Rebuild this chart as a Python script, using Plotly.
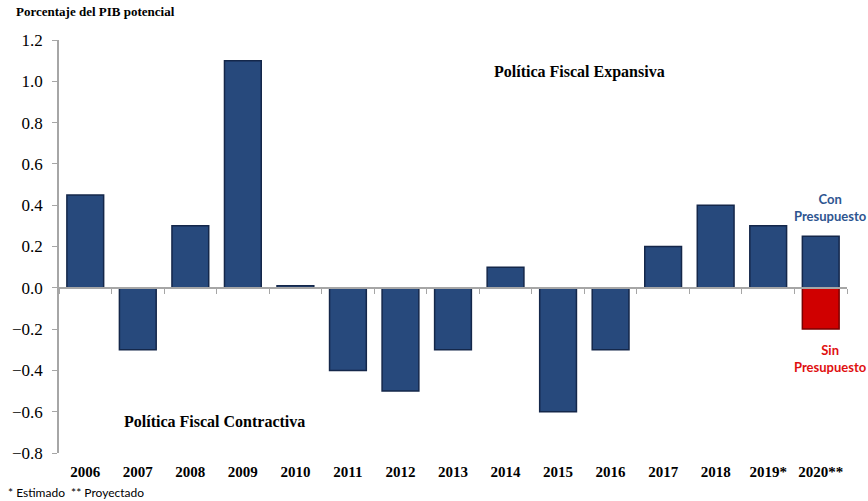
import plotly.graph_objects as go

# Fiscal impulse by year (% of potential GDP)
years = ["2006", "2007", "2008", "2009", "2010", "2011", "2012", "2013",
         "2014", "2015", "2016", "2017", "2018", "2019*", "2020**"]
impulso_con = [0.45, -0.30, 0.30, 1.10, 0.01, -0.40, -0.50, -0.30,
               0.10, -0.60, -0.30, 0.20, 0.40, 0.30, 0.25]
sin_year = ["2020**"]
impulso_sin = [-0.20]
y_ticks = [-0.8, -0.6, -0.4, -0.2, 0.0, 0.2, 0.4, 0.6, 0.8, 1.0, 1.2]

BLUE = "#27497C"
BLUE_EDGE = "#14274A"
RED = "#D00000"
RED_EDGE = "#7A0000"
SERIF = "Liberation Serif"

fig = go.Figure()

fig.add_trace(go.Bar(
    x=years, y=impulso_con, width=0.7,
    marker=dict(color=BLUE, line=dict(color=BLUE_EDGE, width=1.5)),
    hoverinfo="x+y", showlegend=False,
))
fig.add_trace(go.Bar(
    x=sin_year, y=impulso_sin, width=0.7,
    marker=dict(color=RED, line=dict(color=RED_EDGE, width=1.5)),
    hoverinfo="x+y", showlegend=False,
))
# carrier trace for the zero-line category axis
fig.add_trace(go.Scatter(
    x=years, y=[0] * len(years), xaxis="x2", yaxis="y",
    mode="lines", line=dict(width=0), opacity=0,
    hoverinfo="skip", showlegend=False,
))

y_min, y_max = y_ticks[0], y_ticks[-1]
zero_pos = (0 - y_min) / (y_max - y_min)

fig.update_layout(
    width=868, height=501,
    margin=dict(l=57, r=21, t=40, b=48),
    paper_bgcolor="white", plot_bgcolor="white",
    barmode="relative", bargap=0.3,
    xaxis=dict(
        type="category", categoryorder="array", categoryarray=years,
        range=[-0.5, len(years) - 0.5],
        showline=False, ticks="", showgrid=False, zeroline=False,
        tickfont=dict(family=SERIF, size=15, color="black", weight="bold"),
        ticklabelstandoff=8,
    ),
    xaxis2=dict(
        type="category", categoryorder="array", categoryarray=years,
        range=[-0.5, len(years) - 0.5],
        overlaying="x", anchor="free", position=zero_pos,
        showline=True, linecolor="#A6A6A6", linewidth=1.5,
        ticks="outside", ticklen=5, tickcolor="#A6A6A6", tickwidth=1,
        tickson="boundaries", showticklabels=False, showgrid=False,
    ),
    yaxis=dict(
        range=[y_min, y_max], tickvals=y_ticks, tickformat=".1f",
        showline=True, linecolor="#A6A6A6", linewidth=1.5,
        ticks="outside", ticklen=5, tickcolor="#A6A6A6",
        showgrid=False, zeroline=False,
        tickfont=dict(family=SERIF, size=17, color="black"),
        ticklabelstandoff=6,
    ),
)

annotations = [
    dict(text="Porcentaje del PIB potencial", x=12, y=12, xanchor="left",
         font=dict(family=SERIF, size=13, color="black", weight="bold")),
    dict(text="Política Fiscal Expansiva", x=579, y=72,
         font=dict(family=SERIF, size=16, color="black", weight="bold")),
    dict(text="Política Fiscal Contractiva", x=213, y=421,
         font=dict(family=SERIF, size=16, color="black", weight="bold")),
    dict(text="Con<br>Presupuesto", x=830, y=207,
         font=dict(family="Lato", size=13, color="#2E5590", weight="bold")),
    dict(text="Sin<br>Presupuesto", x=830, y=358,
         font=dict(family="Lato", size=13, color="#E01010", weight="bold")),
    dict(text="* Estimado  ** Proyectado", x=4, y=492, xanchor="left",
         font=dict(family="Lato", size=12, color="black")),
]
for a in annotations:
    fig.add_annotation(
        text=a["text"], xref="paper", yref="paper",
        x=(a["x"] - 57) / (868 - 57 - 21),
        y=1 - (a["y"] - 40) / (501 - 40 - 48),
        xanchor=a.get("xanchor", "center"), yanchor="middle",
        showarrow=False, font=a["font"], align="center",
    )

fig.write_html("out.html")
